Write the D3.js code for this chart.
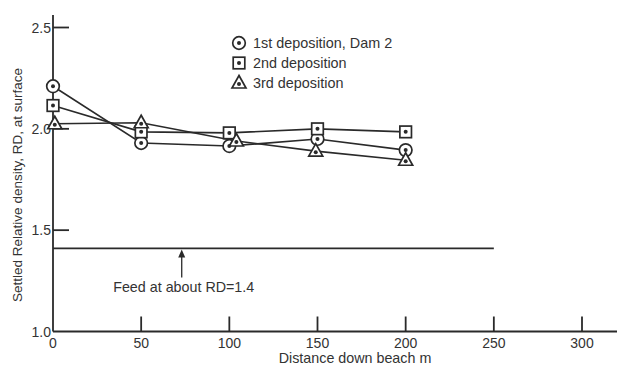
<!DOCTYPE html>
<html lang="en">
<meta charset="utf-8">
<title>Settled relative density</title>
<head>
<style>
  body { margin: 0; background: #fff; }
  text { font-family: "Liberation Sans", Arial, sans-serif; fill: #333; }
</style>
</head>
<body>
  <script src="https://cdn.jsdelivr.net/npm/d3@7"></script>
  <div id="chart"></div>
  <script>
    // data
    var distances = [0, 50, 100, 150, 200];
    var first = [2.21, 1.93, 1.915, 1.95, 1.895];
    var second = [2.115, 1.985, 1.98, 2.0, 1.985];
    var third = [2.025, 2.03, 1.94, 1.89, 1.845];
    var thirdX = [1, 50, 104, 149, 200];
    var seriesNames = ["1st deposition, Dam 2", "2nd deposition", "3rd deposition"];
    var xTicks = [0, 50, 100, 150, 200, 250, 300];
    var yTicks = [1.0, 1.5, 2.0, 2.5];
    var feedRD = 1.41;
    var feedX = [0, 250];
    var feedArrowX = 73;

    var W = 617, H = 369;
    var svg = d3.select("#chart").append("svg")
      .attr("width", W).attr("height", H);

    var x = d3.scaleLinear().domain([0, 300]).range([53, 582]);
    var y = d3.scaleLinear().domain([1.0, 2.5]).range([331.5, 27.5]);
    var ink = "#2a2a2a";

    // axes
    svg.append("line").attr("x1", x(0)).attr("x2", W).attr("y1", y(1)).attr("y2", y(1))
      .attr("stroke", ink).attr("stroke-width", 1.8);
    svg.append("line").attr("x1", x(0)).attr("x2", x(0)).attr("y1", y(1)).attr("y2", 15)
      .attr("stroke", ink).attr("stroke-width", 1.8);

    svg.selectAll(".xt").data(xTicks.slice(1)).enter().append("line")
      .attr("x1", d => x(d)).attr("x2", d => x(d))
      .attr("y1", y(1)).attr("y2", y(1) - 15)
      .attr("stroke", ink).attr("stroke-width", 1.8);
    svg.selectAll(".xl").data(xTicks).enter().append("text")
      .attr("x", d => x(d)).attr("y", 348)
      .attr("text-anchor", "middle").attr("font-size", 14)
      .text(d => d);

    svg.selectAll(".yt").data(yTicks.slice(1)).enter().append("line")
      .attr("x1", x(0)).attr("x2", x(0) + 16)
      .attr("y1", d => y(d)).attr("y2", d => y(d))
      .attr("stroke", ink).attr("stroke-width", 1.8);
    svg.selectAll(".yl").data(yTicks).enter().append("text")
      .attr("x", 51).attr("y", d => y(d) + 5)
      .attr("text-anchor", "end").attr("font-size", 14)
      .text(d => d.toFixed(1));

    svg.append("text").attr("x", 355).attr("y", 363)
      .attr("text-anchor", "middle").attr("font-size", 14.3)
      .text("Distance down beach m");
    svg.append("text")
      .attr("transform", "translate(22,185) rotate(-90)")
      .attr("text-anchor", "middle").attr("font-size", 13.5)
      .text("Settled Relative density, RD, at surface");

    // feed line and arrow
    svg.append("line").attr("x1", x(feedX[0])).attr("x2", x(feedX[1]))
      .attr("y1", y(feedRD)).attr("y2", y(feedRD))
      .attr("stroke", ink).attr("stroke-width", 1.8);
    svg.append("line").attr("x1", x(feedArrowX)).attr("x2", x(feedArrowX))
      .attr("y1", y(feedRD) + 29).attr("y2", y(feedRD) + 6)
      .attr("stroke", ink).attr("stroke-width", 1.3);
    svg.append("path")
      .attr("d", d3.line()([[x(feedArrowX) - 3.5, y(feedRD) + 9], [x(feedArrowX), y(feedRD) + 1], [x(feedArrowX) + 3.5, y(feedRD) + 9]]) + "Z")
      .attr("fill", ink);
    svg.append("text").attr("x", x(feedArrowX) + 2).attr("y", 292)
      .attr("text-anchor", "middle").attr("font-size", 14.3)
      .text("Feed at about RD=" + feedRD.toFixed(1));

    // series
    var series = [
      { xs: distances, ys: first, shape: "circle" },
      { xs: distances, ys: second, shape: "square" },
      { xs: thirdX, ys: third, shape: "triangle" }
    ];

    function marker(g, shape, cx, cy) {
      if (shape === "circle") {
        g.append("circle").attr("cx", cx).attr("cy", cy).attr("r", 6.3)
          .attr("fill", "#fff").attr("stroke", ink).attr("stroke-width", 1.7);
      } else if (shape === "square") {
        g.append("rect").attr("x", cx - 5.8).attr("y", cy - 5.8)
          .attr("width", 11.6).attr("height", 11.6)
          .attr("fill", "#fff").attr("stroke", ink).attr("stroke-width", 1.7);
      } else {
        g.append("path")
          .attr("d", "M" + cx + "," + (cy - 7.5) + "L" + (cx + 7) + "," + (cy + 5) + "L" + (cx - 7) + "," + (cy + 5) + "Z")
          .attr("fill", "#fff").attr("stroke", ink).attr("stroke-width", 1.7);
      }
      g.append("circle").attr("cx", cx).attr("cy", shape === "triangle" ? cy + 1 : cy)
        .attr("r", 2).attr("fill", ink);
    }

    var line = d3.line().x(d => x(d[0])).y(d => y(d[1]));
    series.forEach(function (s) {
      var pts = s.xs.map((v, i) => [v, s.ys[i]]);
      svg.append("path").attr("d", line(pts))
        .attr("fill", "none").attr("stroke", ink).attr("stroke-width", 1.6);
    });
    series.forEach(function (s) {
      var g = svg.append("g");
      s.xs.forEach((v, i) => marker(g, s.shape, x(v), y(s.ys[i])));
    });

    // legend
    var legendY = [43, 63, 83];
    series.forEach(function (s, i) {
      var g = svg.append("g");
      marker(g, s.shape, 239, legendY[i]);
      svg.append("text").attr("x", 253).attr("y", legendY[i] + 5)
        .attr("font-size", 14.4).text(seriesNames[i]);
    });
  </script>
</body>
</html>
